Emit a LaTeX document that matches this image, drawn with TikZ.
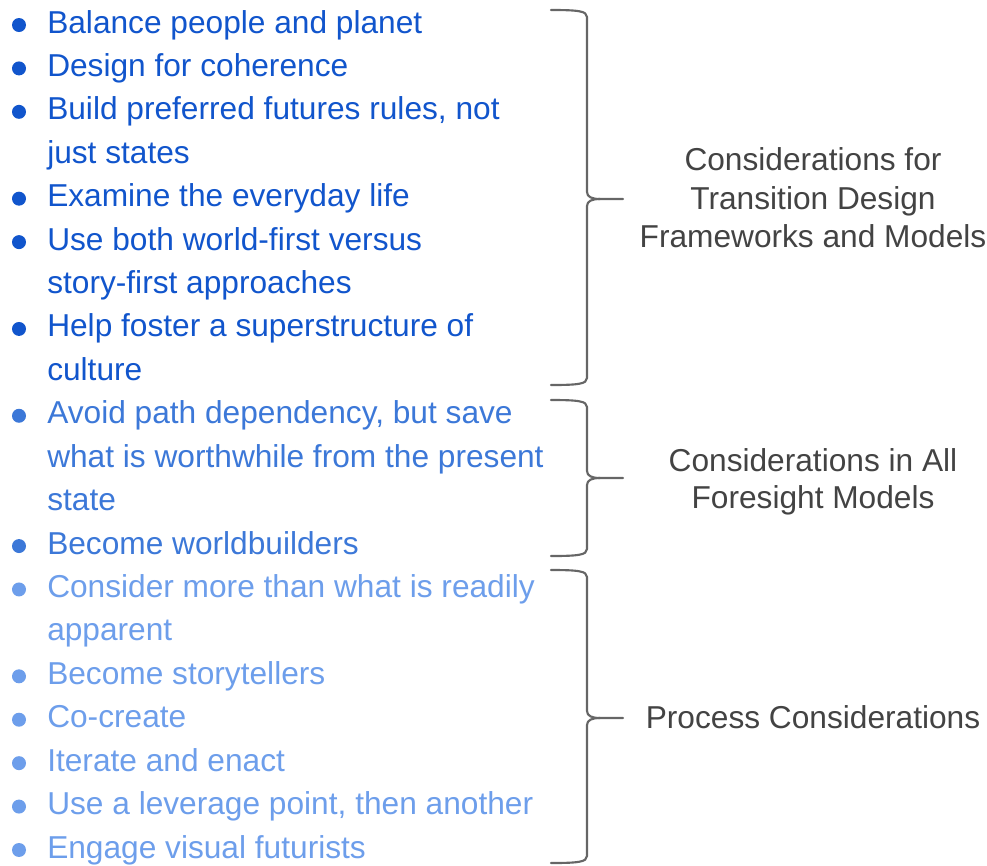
\documentclass[tikz,border=0pt]{standalone}
\usepackage{fontspec}
\setmainfont{Liberation Sans}
\definecolor{bluedark}{HTML}{1155CC}
\definecolor{bluemid}{HTML}{3C78D8}
\definecolor{bluelight}{HTML}{6D9EEB}
\definecolor{labelgray}{HTML}{434343}
\definecolor{bracegray}{HTML}{666666}
\newcommand{\txtsize}{\fontsize{23.75}{29}\selectfont}
\newcommand{\bracepath}[4]{%
  % #1 x left end, #2 top y, #3 mid y, #4 bottom y
  \draw[bracestyle] (#1,#2) .. controls (578,#2) and (587,#2+1) .. (587,#2+7)
    -- (587,#3-7) .. controls (587,#3-2) and (592,#3) .. (600,#3) -- (623,#3);
  \draw[bracestyle] (600,#3) .. controls (592,#3) and (587,#3+2) .. (587,#3+7)
    -- (587,#4-7) .. controls (587,#4-1) and (578,#4) .. (#1,#4);
}
\begin{document}
\begin{tikzpicture}[x=0.75pt,y=-0.75pt,
  item/.style={anchor=base west,inner sep=0pt,font=\txtsize},
  dot/.style={circle,inner sep=0pt,minimum size=10.5pt},
  label/.style={inner sep=0pt,font=\txtsize,text=labelgray,anchor=base},
  bracestyle/.style={draw=bracegray,line width=1.6pt,line cap=round,line join=round}]
\useasboundingbox (0,0) rectangle (987,865);
% list lines
\foreach \i/\t/\c/\b in {
  0/Balance people and planet/bluedark/1,
  1/Design for coherence/bluedark/1,
  2/{Build preferred futures rules, not}/bluedark/1,
  3/just states/bluedark/0,
  4/Examine the everyday life/bluedark/1,
  5/Use both world-first versus/bluedark/1,
  6/story-first approaches/bluedark/0,
  7/Help foster a superstructure of/bluedark/1,
  8/culture/bluedark/0,
  9/{Avoid path dependency, but save}/bluemid/1,
  10/what is worthwhile from the present/bluemid/0,
  11/state/bluemid/0,
  12/Become worldbuilders/bluemid/1,
  13/Consider more than what is readily/bluelight/1,
  14/apparent/bluelight/0,
  15/Become storytellers/bluelight/1,
  16/Co-create/bluelight/1,
  17/Iterate and enact/bluelight/1,
  18/{Use a leverage point, then another}/bluelight/1,
  19/Engage visual futurists/bluelight/1}{
  \pgfmathsetmacro{\yb}{33+43.42*\i}
  \node[item,text=\c] (line\i) at (47,\yb) {\t};
  \ifnum\b=1
    \node[dot,fill=\c] (dot\i) at (19,\yb-8) {};
  \fi
}
% braces
\bracepath{551}{10}{199}{385}
\bracepath{551}{400}{478}{556}
\bracepath{551}{570}{718}{863}
% labels
\node[label] (g1a) at (813,170) {Considerations for};
\node[label] (g1b) at (813,209) {Transition Design};
\node[label] (g1c) at (813,247.5) {Frameworks and Models};
\node[label] (g2a) at (813,471) {Considerations in All};
\node[label] (g2b) at (813,508.5) {Foresight Models};
\node[label] (g3a) at (813,728) {Process Considerations};
\end{tikzpicture}
\end{document}
